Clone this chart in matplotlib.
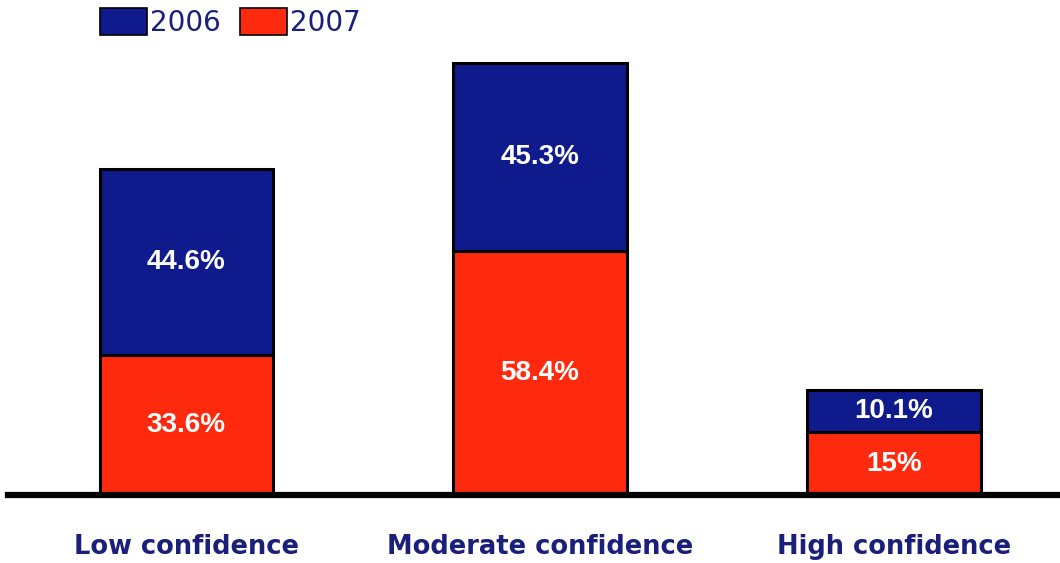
import numpy as np
import matplotlib.pyplot as plt
from matplotlib.patches import Patch

categories = ['Low confidence', 'Moderate confidence', 'High confidence']
vals_2007 = [33.6, 58.4, 15.0]
vals_2006 = [44.6, 45.3, 10.1]
labels_2007 = ['33.6%', '58.4%', '15%']
labels_2006 = ['44.6%', '45.3%', '10.1%']

blue = '#0f1a8c'
red = '#ff2a0e'
navy = '#1a1f7a'

fig = plt.figure(figsize=(10.6, 5.63), dpi=100)
ax = fig.add_axes([8 / 1060, 68 / 563, 1052 / 1060, 475 / 563])

x = np.arange(len(categories))
w = 0.489
ax.bar(x, vals_2007, w, color=red, edgecolor='black', linewidth=2.2, zorder=2)
ax.bar(x, vals_2006, w, bottom=vals_2007, color=blue, edgecolor='black', linewidth=2.2, zorder=2)

for i in range(len(x)):
    ax.text(x[i], vals_2007[i] / 2, labels_2007[i], ha='center', va='center',
            color='white', fontsize=20, fontweight='bold', family='Liberation Sans', zorder=3)
    ax.text(x[i], vals_2007[i] + vals_2006[i] / 2, labels_2006[i], ha='center', va='center',
            color='white', fontsize=20, fontweight='bold', family='Liberation Sans', zorder=3)

ax.set_xlim(-0.503, 2.469)
ax.set_ylim(0, 475 / 4.17)
ax.set_yticks([])
ax.set_xticks(x)
ax.set_xticklabels(categories, fontsize=18.5, fontweight='bold', color=navy)
ax.tick_params(axis='x', length=0, pad=28)
for s in ['top', 'right', 'left']:
    ax.spines[s].set_visible(False)
ax.spines['bottom'].set_linewidth(4.5)

handles = [Patch(facecolor=blue, edgecolor='black', linewidth=1.2, label='2006'),
           Patch(facecolor=red, edgecolor='black', linewidth=1.2, label='2007')]
leg = fig.legend(handles=handles, loc='upper left', bbox_to_anchor=(83 / 1060, 1.015),
                 ncol=2, frameon=False, fontsize=20, handlelength=1.7, handleheight=1.1,
                 handletextpad=0.1, columnspacing=0.7, borderaxespad=0.2)
for t in leg.get_texts():
    t.set_color(navy)

plt.savefig('out.png', dpi=100)
